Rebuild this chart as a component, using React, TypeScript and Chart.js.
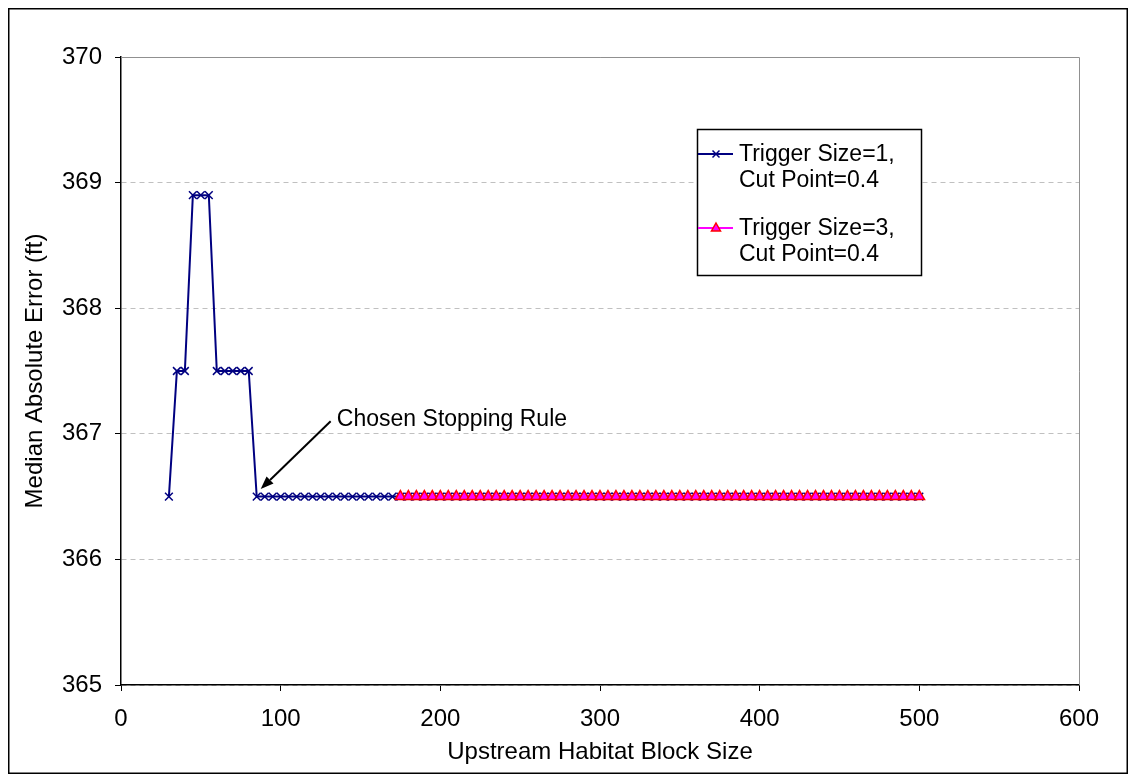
import React, { useEffect, useRef } from "react";
import { Chart, registerables } from "chart.js";

Chart.register(...registerables);

// ---- Data ----
const blockSizesA = [
  30, 35, 40, 45, 50, 55, 60, 65, 70, 75, 80, 85,
  90, 95, 100, 105, 110, 115, 120, 125, 130, 135, 140, 145,
  150, 155, 160, 165, 170, 175, 180, 185, 190, 195, 200, 205,
  210, 215, 220, 225, 230, 235, 240, 245, 250, 255, 260, 265,
  270, 275, 280, 285, 290, 295, 300, 305, 310, 315, 320, 325,
  330, 335, 340, 345, 350, 355, 360, 365, 370, 375, 380, 385,
  390, 395, 400, 405, 410, 415, 420, 425, 430, 435, 440, 445,
  450, 455, 460, 465, 470, 475, 480, 485, 490, 495, 500,
];
const maeA = [
  366.5, 367.5, 367.5, 368.9, 368.9, 368.9, 367.5, 367.5, 367.5, 367.5, 367.5,
  366.5, 366.5, 366.5, 366.5, 366.5, 366.5, 366.5, 366.5, 366.5, 366.5, 366.5, 366.5,
  366.5, 366.5, 366.5, 366.5, 366.5, 366.5, 366.5, 366.5, 366.5, 366.5, 366.5, 366.5,
  366.5, 366.5, 366.5, 366.5, 366.5, 366.5, 366.5, 366.5, 366.5, 366.5, 366.5, 366.5,
  366.5, 366.5, 366.5, 366.5, 366.5, 366.5, 366.5, 366.5, 366.5, 366.5, 366.5, 366.5,
  366.5, 366.5, 366.5, 366.5, 366.5, 366.5, 366.5, 366.5, 366.5, 366.5, 366.5, 366.5,
  366.5, 366.5, 366.5, 366.5, 366.5, 366.5, 366.5, 366.5, 366.5, 366.5, 366.5, 366.5,
  366.5, 366.5, 366.5, 366.5, 366.5, 366.5, 366.5, 366.5, 366.5, 366.5, 366.5, 366.5,
];
const blockSizesB = [
  175, 180, 185, 190, 195, 200, 205, 210, 215, 220, 225,
  230, 235, 240, 245, 250, 255, 260, 265, 270, 275, 280,
  285, 290, 295, 300, 305, 310, 315, 320, 325, 330, 335,
  340, 345, 350, 355, 360, 365, 370, 375, 380, 385, 390,
  395, 400, 405, 410, 415, 420, 425, 430, 435, 440, 445,
  450, 455, 460, 465, 470, 475, 480, 485, 490, 495, 500,
];
const maeB = [
  366.5, 366.5, 366.5, 366.5, 366.5, 366.5, 366.5, 366.5, 366.5, 366.5, 366.5,
  366.5, 366.5, 366.5, 366.5, 366.5, 366.5, 366.5, 366.5, 366.5, 366.5, 366.5,
  366.5, 366.5, 366.5, 366.5, 366.5, 366.5, 366.5, 366.5, 366.5, 366.5, 366.5,
  366.5, 366.5, 366.5, 366.5, 366.5, 366.5, 366.5, 366.5, 366.5, 366.5, 366.5,
  366.5, 366.5, 366.5, 366.5, 366.5, 366.5, 366.5, 366.5, 366.5, 366.5, 366.5,
  366.5, 366.5, 366.5, 366.5, 366.5, 366.5, 366.5, 366.5, 366.5, 366.5, 366.5,
];
const seriesLabels = [
  ["Trigger Size=1,", "Cut Point=0.4"],
  ["Trigger Size=3,", "Cut Point=0.4"],
];
const xTitle = "Upstream Habitat Block Size";
const yTitle = "Median Absolute Error (ft)";
const annotationText = "Chosen Stopping Rule";
// annotation anchors in data units
const annotationTextAt = { x: 135.2, y: 367.11 };
const annotationArrowFrom = { x: 131.3, y: 367.1 };
const annotationArrowTo = { x: 87.5, y: 366.56 };

const FONT = "'Liberation Sans', Arial, sans-serif";
const BLUE = "#000080";
const PINK = "#FF00FF";
const RED = "#FF0000";

const framePlugin = {
  id: "frame",
  beforeDraw(chart: any) {
    const { ctx, width, height } = chart;
    ctx.save();
    ctx.fillStyle = "#ffffff";
    ctx.fillRect(0, 0, width, height);
    ctx.restore();
  },
  beforeDatasetsDraw(chart: any) {
    const { ctx, chartArea } = chart;
    ctx.save();
    ctx.strokeStyle = "#909090";
    ctx.lineWidth = 1;
    ctx.beginPath();
    ctx.moveTo(chartArea.left, Math.round(chartArea.top) + 0.5);
    ctx.lineTo(Math.round(chartArea.right) + 0.5, Math.round(chartArea.top) + 0.5);
    ctx.lineTo(Math.round(chartArea.right) + 0.5, chartArea.bottom);
    ctx.stroke();
    ctx.restore();
  },
  afterDraw(chart: any) {
    const { ctx, width, height, scales } = chart;
    const xs = scales.x;
    const ys = scales.y;
    ctx.save();
    // outer frame
    ctx.strokeStyle = "#000000";
    ctx.lineWidth = 1.5;
    ctx.strokeRect(0.75, 0.75, width - 1.5, height - 1.5);

    // annotation
    const tx = xs.getPixelForValue(annotationTextAt.x);
    const ty = ys.getPixelForValue(annotationTextAt.y);
    ctx.fillStyle = "#000000";
    ctx.font = `23px ${FONT}`;
    ctx.textAlign = "left";
    ctx.textBaseline = "middle";
    ctx.fillText(annotationText, tx, ty);
    const ax1 = xs.getPixelForValue(annotationArrowFrom.x);
    const ay1 = ys.getPixelForValue(annotationArrowFrom.y);
    const ax2 = xs.getPixelForValue(annotationArrowTo.x);
    const ay2 = ys.getPixelForValue(annotationArrowTo.y);
    const ang = Math.atan2(ay2 - ay1, ax2 - ax1);
    const headLen = 13;
    const headW = 5;
    const bx = ax2 - headLen * Math.cos(ang);
    const by = ay2 - headLen * Math.sin(ang);
    ctx.strokeStyle = "#000000";
    ctx.lineWidth = 2;
    ctx.beginPath();
    ctx.moveTo(ax1, ay1);
    ctx.lineTo(bx, by);
    ctx.stroke();
    ctx.beginPath();
    ctx.moveTo(ax2, ay2);
    ctx.lineTo(bx + headW * Math.sin(ang), by - headW * Math.cos(ang));
    ctx.lineTo(bx - headW * Math.sin(ang), by + headW * Math.cos(ang));
    ctx.closePath();
    ctx.fill();

    // legend
    const lx = 689, ly = 121, lw = 224, lh = 146;
    ctx.fillStyle = "#ffffff";
    ctx.fillRect(lx, ly, lw, lh);
    ctx.strokeStyle = "#000000";
    ctx.lineWidth = 1.5;
    ctx.strokeRect(lx + 0.5, ly + 0.5, lw, lh);
    const entryY = [146, 220];
    chart.data.datasets.forEach((ds: any, i: number) => {
      const cy = entryY[i];
      ctx.strokeStyle = ds.borderColor;
      ctx.lineWidth = 2;
      ctx.beginPath();
      ctx.moveTo(690, cy);
      ctx.lineTo(725, cy);
      ctx.stroke();
      const mx = 708;
      if (ds.pointStyle === "crossRot") {
        const r = 3.5;
        ctx.strokeStyle = ds.pointBorderColor;
        ctx.lineWidth = ds.pointBorderWidth;
        ctx.beginPath();
        ctx.moveTo(mx - r, cy - r);
        ctx.lineTo(mx + r, cy + r);
        ctx.moveTo(mx - r, cy + r);
        ctx.lineTo(mx + r, cy - r);
        ctx.stroke();
      } else {
        const r = 5;
        ctx.fillStyle = ds.pointBackgroundColor;
        ctx.strokeStyle = ds.pointBorderColor;
        ctx.lineWidth = 1.5;
        ctx.beginPath();
        ctx.moveTo(mx, cy - r);
        ctx.lineTo(mx + r * 0.9, cy + r * 0.6);
        ctx.lineTo(mx - r * 0.9, cy + r * 0.6);
        ctx.closePath();
        ctx.fill();
        ctx.stroke();
      }
      ctx.fillStyle = "#000000";
      ctx.font = `23px ${FONT}`;
      ctx.textAlign = "left";
      ctx.textBaseline = "middle";
      const lines: string[] = seriesLabels[i];
      lines.forEach((t, k) => ctx.fillText(t, 731, cy + 1 + k * 26));
    });
    ctx.restore();
  },
};

export default function App() {
  const ref = useRef<HTMLCanvasElement | null>(null);
  useEffect(() => {
    if (!ref.current) return;
    const chart = new Chart(ref.current, {
      type: "line",
      data: {
        datasets: [
          {
            label: seriesLabels[0].join(" "),
            data: blockSizesA.map((x, i) => ({ x, y: maeA[i] })),
            borderColor: BLUE,
            borderWidth: 2,
            pointStyle: "crossRot",
            pointRadius: 5.5,
            pointBorderColor: BLUE,
            pointBorderWidth: 1.5,
            pointBackgroundColor: BLUE,
            fill: false,
            tension: 0,
            order: 2,
          },
          {
            label: seriesLabels[1].join(" "),
            data: blockSizesB.map((x, i) => ({ x, y: maeB[i] })),
            borderColor: PINK,
            borderWidth: 2,
            pointStyle: "triangle",
            pointRadius: 6,
            pointBorderColor: RED,
            pointBorderWidth: 1.5,
            pointBackgroundColor: PINK,
            fill: false,
            tension: 0,
            order: 1,
          },
        ],
      },
      options: {
        animation: false,
        responsive: false,
        layout: { padding: { top: 49, right: 49, left: 0, bottom: 0 } },
        plugins: {
          legend: { display: false },
          tooltip: { enabled: false },
        },
        scales: {
          x: {
            type: "linear",
            min: 0,
            max: 600,
            ticks: {
              stepSize: 100,
              color: "#000",
              font: { family: FONT, size: 24 },
              padding: 14,
              maxRotation: 0,
            },
            grid: {
              drawOnChartArea: false,
              drawTicks: true,
              tickLength: 6,
              tickColor: "#000",
            },
            border: { display: true, color: "#000", width: 1.5 },
            title: {
              display: true,
              text: xTitle,
              color: "#000",
              font: { family: FONT, size: 24 },
              padding: { top: 0, bottom: 7 },
            },
            afterFit: (s: any) => {
              s.height = 89;
            },
          },
          y: {
            type: "linear",
            min: 365,
            max: 370,
            ticks: {
              stepSize: 1,
              color: "#000",
              font: { family: FONT, size: 24 },
              padding: 13,
            },
            grid: {
              color: "#c0c0c0",
              lineWidth: 1,
              drawTicks: true,
              tickLength: 6,
              tickColor: "#000",
            },
            border: { display: true, color: "#000", width: 1.5, dash: [5, 4] },
            title: {
              display: true,
              text: yTitle,
              color: "#000",
              font: { family: FONT, size: 24 },
              padding: { top: 13, bottom: 0 },
            },
            afterFit: (s: any) => {
              s.width = 113;
            },
          },
        },
      },
      plugins: [framePlugin],
    });
    return () => chart.destroy();
  }, []);
  return (
    <div style={{ width: 1120, height: 766 }}>
      <canvas ref={ref} width={1120} height={766} style={{ display: "block" }} />
    </div>
  );
}
